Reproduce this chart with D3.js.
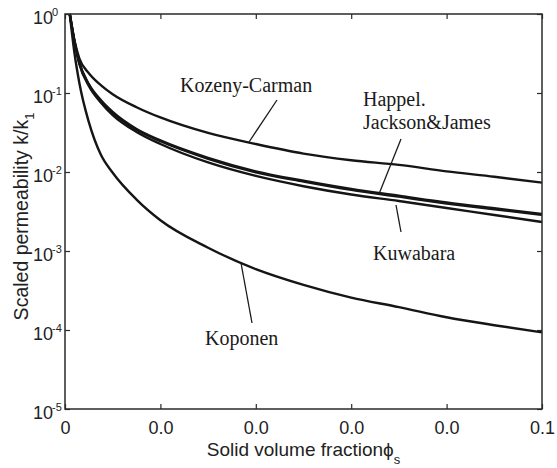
<!DOCTYPE html>
<html>
<head>
<meta charset="utf-8">
<script src="https://cdn.jsdelivr.net/npm/d3@7"></script>
<style>
  html, body { margin: 0; padding: 0; background: #fff; }
  svg { display: block; }
</style>
</head>
<body>
<svg id="chart" width="557" height="468"></svg>
<script>
// ---- data ----
const phi = [0.001, 0.002, 0.003, 0.005, 0.0075, 0.01, 0.015, 0.02, 0.03, 0.04, 0.05, 0.06, 0.07, 0.08, 0.09, 0.1];
const kozenyCarman = [1, 0.457, 0.275, 0.178, 0.126, 0.0966, 0.0661, 0.0490, 0.0312, 0.0226, 0.0171, 0.0141, 0.0123, 0.0102, 0.00871, 0.00733];
const happel       = [1, 0.447, 0.245, 0.130, 0.0813, 0.0575, 0.0350, 0.0251, 0.0151, 0.0102, 0.00776, 0.00610, 0.00501, 0.00411, 0.00347, 0.00295];
const jacksonJames = [1, 0.440, 0.240, 0.127, 0.0795, 0.0562, 0.0342, 0.0245, 0.0147, 0.0099, 0.00755, 0.00593, 0.00487, 0.00400, 0.00337, 0.00287];
const kuwabara     = [1, 0.437, 0.234, 0.123, 0.0759, 0.0525, 0.0321, 0.0226, 0.0132, 0.00891, 0.00661, 0.00519, 0.00430, 0.00350, 0.00286, 0.00233];
const koponen      = [1, 0.316, 0.135, 0.0427, 0.0166, 0.00977, 0.00447, 0.00245, 0.00110, 0.000589, 0.000372, 0.000257, 0.000195, 0.000145, 0.000115, 0.0000933];

const xTickValues = [0, 0.02, 0.04, 0.06, 0.08, 0.1];
const xTickLabels = ["0", "0.0", "0.0", "0.0", "0.0", "0.1"];
const yTickValues = [1, 1e-1, 1e-2, 1e-3, 1e-4, 1e-5];
const yTickExponents = ["0", "-1", "-2", "-3", "-4", "-5"];

const seriesNames = ["Kozeny-Carman", "Happel", "Jackson&James", "Kuwabara", "Koponen"];
const seriesValues = [kozenyCarman, happel, jacksonJames, kuwabara, koponen];

// ---- layout ----
const pL = 65, pR = 542, pT = 14, pB = 409;
const svg = d3.select("#chart");

const x = d3.scaleLinear().domain([0, 0.1]).range([pL, pR]);
const y = d3.scaleLog().domain([1e-5, 1]).range([pB, pT]);

const axisColor = "#2a2a2a";
const sans = "Liberation Sans, Arial, Helvetica, sans-serif";
const serif = "Liberation Serif, Times New Roman, serif";

// curves
const line = d3.line()
  .x(d => x(d[0]))
  .y(d => y(d[1]))
  .curve(d3.curveMonotoneX);

svg.append("g").selectAll("path")
  .data(seriesValues)
  .join("path")
  .attr("d", vals => line(phi.map((p, i) => [p, vals[i]])))
  .attr("fill", "none")
  .attr("stroke", "#151515")
  .attr("stroke-width", 2.4)
  .attr("stroke-linejoin", "round");

// axes (ticks inward)
function styleAxis(g) {
  g.select(".domain").remove();
  g.selectAll(".tick line").attr("stroke", axisColor).attr("stroke-width", 1.2);
}

const xAxis = svg.append("g")
  .attr("transform", `translate(0,${pB})`)
  .call(d3.axisBottom(x).tickValues(xTickValues).tickSizeInner(-5).tickSizeOuter(0)
    .tickFormat((d, i) => xTickLabels[i]))
  .call(styleAxis);
xAxis.selectAll(".tick text")
  .attr("font-family", sans).attr("font-size", 18).attr("fill", "#222")
  .attr("y", 12).attr("dy", "0.71em");

svg.append("g")
  .attr("transform", `translate(0,${pT})`)
  .call(d3.axisTop(x).tickValues(xTickValues).tickSizeInner(-5).tickSizeOuter(0).tickFormat(""))
  .call(styleAxis);

const yAxis = svg.append("g")
  .attr("transform", `translate(${pL},0)`)
  .call(d3.axisLeft(y).tickValues(yTickValues).tickSizeInner(-5).tickSizeOuter(0).tickFormat(""))
  .call(styleAxis);
yAxis.selectAll(".tick").each(function(d, i) {
  const t = d3.select(this).append("text")
    .attr("font-family", sans).attr("fill", "#222")
    .attr("text-anchor", "start")
    .attr("x", -32).attr("y", 9);
  t.append("tspan").attr("font-size", 18).text("10");
  t.append("tspan").attr("font-size", 11).attr("dy", -8).attr("dx", -1).text(yTickExponents[i]);
});

svg.append("g")
  .attr("transform", `translate(${pR},0)`)
  .call(d3.axisRight(y).tickValues(yTickValues).tickSizeInner(-5).tickSizeOuter(0).tickFormat(""))
  .call(styleAxis);

// frame
svg.append("rect")
  .attr("x", pL).attr("y", pT)
  .attr("width", pR - pL).attr("height", pB - pT)
  .attr("fill", "none").attr("stroke", axisColor).attr("stroke-width", 1.5);

// axis titles
const xt = svg.append("text")
  .attr("x", (pL + pR) / 2).attr("y", 456)
  .attr("text-anchor", "middle")
  .attr("font-family", sans).attr("font-size", 19).attr("fill", "#222");
xt.append("tspan").text("Solid volume fraction");
xt.append("tspan").text("\u03D5");
xt.append("tspan").attr("font-size", 13).attr("dy", 8).text("s");

const yt = svg.append("text")
  .attr("transform", `translate(28,${(pT + pB) / 2 + 5}) rotate(-90)`)
  .attr("text-anchor", "middle")
  .attr("font-family", sans).attr("font-size", 19.5).attr("fill", "#222");
yt.append("tspan").text("Scaled permeability k/k");
yt.append("tspan").attr("font-size", 13).attr("dy", 6).text("1");

// annotations
const labels = [
  { lines: ["Kozeny-Carman"], x: 180, y: 92, lead: [[277, 100], [249, 142]] },
  { lines: ["Happel.", "Jackson&James"], x: 363, y: 105.5, lead: [[401, 139], [379, 194]] },
  { lines: ["Kuwabara"], x: 373, y: 260, lead: [[401, 232], [396, 205]] },
  { lines: ["Koponen"], x: 205, y: 345, lead: [[252, 323], [241, 263]] }
];
labels.forEach(l => {
  l.lines.forEach((s, j) => {
    svg.append("text")
      .attr("x", l.x).attr("y", l.y + j * 23)
      .attr("font-family", serif).attr("font-size", 20).attr("fill", "#1a1a1a")
      .text(s);
  });
  svg.append("line")
    .attr("x1", l.lead[0][0]).attr("y1", l.lead[0][1])
    .attr("x2", l.lead[1][0]).attr("y2", l.lead[1][1])
    .attr("stroke", "#1a1a1a").attr("stroke-width", 1.3);
});
</script>
</body>
</html>
